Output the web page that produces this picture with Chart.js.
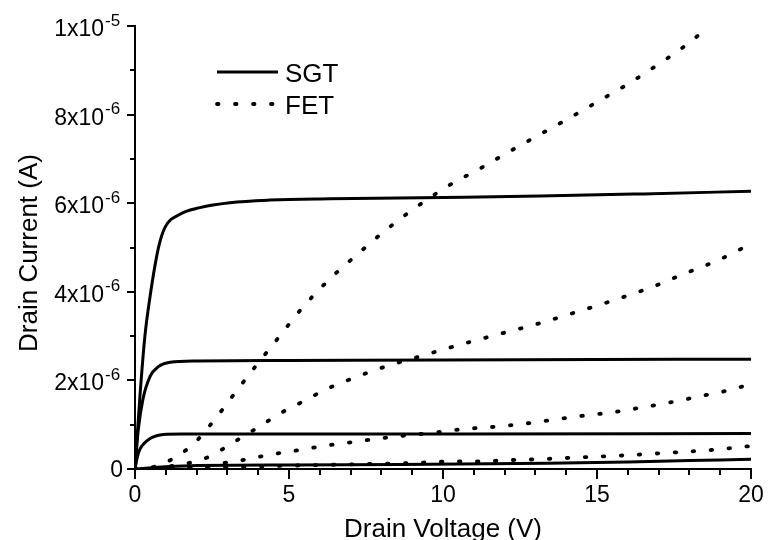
<!DOCTYPE html>
<html>
<head>
<meta charset="utf-8">
<script src="https://cdn.jsdelivr.net/npm/chart.js@4.4.0/dist/chart.umd.min.js"></script>
<style>
    body { margin: 0; background: #fff; }
    canvas { display: block; }
</style>
</head>
<body>
<canvas id="grafico" width="768" height="540"></canvas>
<script>
// drain voltage (V) and drain current (units of 10^-6 A)
const sgt1V = [0, 0.16, 0.32, 0.49, 0.76, 0.97, 1.46, 2.11, 3.08, 4.38, 6.33, 10, 13.15, 16.5, 20];
const sgt1I = [0, 1.64, 2.99, 3.90, 4.99, 5.45, 5.75, 5.90, 6.01, 6.07, 6.10, 6.13, 6.16, 6.21, 6.27];
const sgt2V = [0, 0.1, 0.25, 0.49, 0.76, 1.14, 2, 5, 10, 15, 20];
const sgt2I = [0, 0.85, 1.55, 2.09, 2.31, 2.41, 2.44, 2.45, 2.46, 2.47, 2.48];
const sgt3V = [0, 0.08, 0.16, 0.3, 0.49, 0.7, 0.92, 1.5, 3, 10, 20];
const sgt3I = [0, 0.28, 0.45, 0.58, 0.69, 0.75, 0.78, 0.79, 0.79, 0.79, 0.80];
const sgt4V = [0, 1, 2, 5, 8.6, 13.4, 16, 18, 20];
const sgt4I = [0, 0.05, 0.08, 0.09, 0.10, 0.13, 0.16, 0.19, 0.22];

const fet1V = [0, 0.5, 0.97, 1.46, 1.95, 2.38, 2.76, 3.14, 3.87, 4.63, 5.41, 6.28, 7.31, 8.28, 9.23, 10.19, 11.17, 12.14, 13.09, 14.07, 15.04, 16.0, 16.96, 17.93, 18.65];
const fet1I = [0, 0.03, 0.14, 0.33, 0.60, 0.94, 1.27, 1.62, 2.28, 2.94, 3.62, 4.26, 4.90, 5.47, 5.96, 6.40, 6.77, 7.16, 7.53, 7.91, 8.30, 8.69, 9.12, 9.59, 10.0];
const fet2V = [0, 1.0, 1.95, 2.44, 2.92, 3.41, 3.9, 4.38, 4.85, 5.36, 6.3, 7.27, 8.25, 9.2, 10.17, 11.15, 12.12, 13.09, 14.04, 15.01, 15.98, 16.94, 17.91, 18.86, 20];
const fet2I = [0, 0.05, 0.17, 0.29, 0.48, 0.69, 0.90, 1.11, 1.31, 1.49, 1.83, 2.10, 2.34, 2.53, 2.73, 2.92, 3.10, 3.28, 3.48, 3.69, 3.91, 4.15, 4.43, 4.69, 5.08];
const fet3V = [0, 1.5, 2.44, 2.92, 3.41, 3.9, 4.38, 4.87, 5.36, 5.84, 6.33, 7.31, 8.28, 9.69, 10.66, 11.63, 12.61, 13.55, 14.52, 15.5, 16.47, 17.42, 18.4, 19.35, 20];
const fet3I = [0, 0.03, 0.07, 0.14, 0.19, 0.26, 0.32, 0.38, 0.43, 0.49, 0.54, 0.63, 0.72, 0.82, 0.90, 0.95, 1.02, 1.11, 1.20, 1.28, 1.39, 1.51, 1.65, 1.79, 1.92];
const fet4V = [0, 2, 4, 6, 8, 9.2, 10.17, 11.15, 12.12, 13.08, 14.06, 15.03, 15.96, 16.94, 17.91, 18.89, 20];
const fet4I = [0, 0.03, 0.06, 0.09, 0.12, 0.14, 0.17, 0.17, 0.20, 0.22, 0.25, 0.28, 0.31, 0.35, 0.39, 0.44, 0.52];

const xTicks = [0, 5, 10, 15, 20];
const xTickLabels = ['0', '5', '10', '15', '20'];
const yTicks = [0, 2, 4, 6, 8, 10];
const yTickMant = ['0', '2x10', '4x10', '6x10', '8x10', '1x10'];
const yTickExp = ['', '-6', '-6', '-6', '-6', '-5'];
const seriesLabels = ['SGT', 'FET'];
const xTitle = 'Drain Voltage (V)';
const yTitle = 'Drain Current (A)';

const fuente = '"Liberation Sans", Arial, sans-serif';
const punteado = [1.5, 16.5];

function puntos(vs, is) {
    return vs.map((v, i) => ({ x: v, y: is[i] }));
}

function serie(vs, is, dotted) {
    return {
        data: puntos(vs, is),
        borderColor: '#000',
        borderWidth: dotted ? 3.8 : 3,
        borderDash: dotted ? punteado : [],
        borderCapStyle: dotted ? 'round' : 'butt',
        borderJoinStyle: 'round',
        pointRadius: 0,
        fill: false,
        cubicInterpolationMode: 'monotone'
    };
}

const ejes = {
    id: 'ejes',
    beforeDraw(chart) {
        const ctx = chart.ctx;
        ctx.save();
        ctx.fillStyle = '#fff';
        ctx.fillRect(0, 0, chart.width, chart.height);
        ctx.restore();
    },
    afterDraw(chart) {
        const ctx = chart.ctx;
        const x = chart.scales.x;
        const y = chart.scales.y;
        const area = chart.chartArea;
        ctx.save();
        ctx.strokeStyle = '#000';
        ctx.fillStyle = '#000';
        ctx.lineWidth = 2;

        // tick marks, major and minor
        x.ticks.forEach((t) => {
            const px = Math.round(x.getPixelForValue(t.value));
            const len = xTicks.includes(t.value) ? 10 : 6;
            ctx.beginPath();
            ctx.moveTo(px, area.bottom);
            ctx.lineTo(px, area.bottom + len);
            ctx.stroke();
        });
        y.ticks.forEach((t) => {
            const py = Math.round(y.getPixelForValue(t.value));
            const len = yTicks.includes(t.value) ? 8 : 5;
            ctx.beginPath();
            ctx.moveTo(area.left, py);
            ctx.lineTo(area.left - len, py);
            ctx.stroke();
        });

        // x tick labels
        ctx.font = '23px ' + fuente;
        ctx.textAlign = 'center';
        ctx.textBaseline = 'alphabetic';
        xTicks.forEach((v, i) => {
            ctx.fillText(xTickLabels[i], x.getPixelForValue(v), area.bottom + 33);
        });

        // y tick labels with superscript exponents
        yTicks.forEach((v, i) => {
            const py = y.getPixelForValue(v);
            if (yTickExp[i] === '') {
                ctx.font = '23px ' + fuente;
                ctx.textAlign = 'right';
                ctx.fillText(yTickMant[i], area.left - 12, py + 8);
                return;
            }
            ctx.font = '17px ' + fuente;
            ctx.textAlign = 'left';
            ctx.fillText(yTickExp[i], area.left - 30, py - 0.5);
            ctx.font = '23px ' + fuente;
            ctx.textAlign = 'right';
            ctx.fillText(yTickMant[i], area.left - 31, py + 10);
        });

        // axis titles
        ctx.font = '26px ' + fuente;
        ctx.textAlign = 'center';
        ctx.fillText(xTitle, (area.left + area.right) / 2, 537);
        ctx.save();
        ctx.translate(37, 253);
        ctx.rotate(-Math.PI / 2);
        ctx.fillText(yTitle, 0, 0);
        ctx.restore();

        // legend
        const filas = [72, 104];
        filas.forEach((ly, i) => {
            ctx.beginPath();
            ctx.lineWidth = i === 0 ? 3 : 3.8;
            ctx.setLineDash(i === 0 ? [] : punteado);
            ctx.lineCap = i === 0 ? 'butt' : 'round';
            ctx.moveTo(217, ly);
            ctx.lineTo(278, ly);
            ctx.stroke();
            ctx.setLineDash([]);
            ctx.font = '26px ' + fuente;
            ctx.textAlign = 'left';
            ctx.fillText(seriesLabels[i], 285, ly + 9.5);
        });
        ctx.restore();
    }
};

new Chart(document.getElementById('grafico'), {
    type: 'line',
    data: {
        datasets: [
            serie(sgt1V, sgt1I, false),
            serie(sgt2V, sgt2I, false),
            serie(sgt3V, sgt3I, false),
            serie(sgt4V, sgt4I, false),
            serie(fet1V, fet1I, true),
            serie(fet2V, fet2I, true),
            serie(fet3V, fet3I, true),
            serie(fet4V, fet4I, true)
        ]
    },
    options: {
        responsive: false,
        animation: false,
        layout: { padding: { top: 26, right: 17, left: 0, bottom: 0 } },
        plugins: {
            legend: { display: false },
            tooltip: { enabled: false }
        },
        scales: {
            x: {
                type: 'linear',
                min: 0,
                max: 20,
                ticks: { display: false, stepSize: 1 },
                grid: { display: false },
                border: { display: true, color: '#000', width: 2 },
                afterFit: (scale) => { scale.height = 71; }
            },
            y: {
                type: 'linear',
                min: 0,
                max: 10,
                ticks: { display: false, stepSize: 1 },
                grid: { display: false },
                border: { display: true, color: '#000', width: 2 },
                afterFit: (scale) => { scale.width = 135; }
            }
        }
    },
    plugins: [ejes]
});
</script>
</body>
</html>
